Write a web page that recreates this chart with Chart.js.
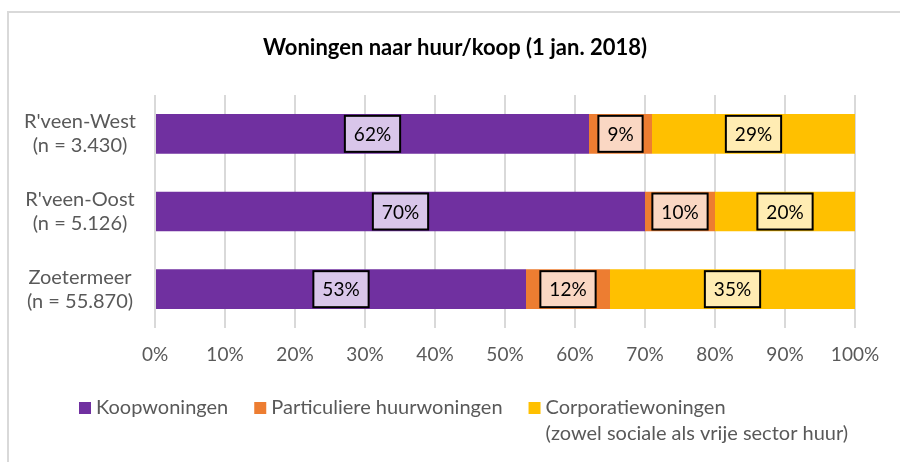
<!DOCTYPE html>
<html>
<head>
<meta charset="utf-8">
<script src="https://cdn.jsdelivr.net/npm/chart.js@4.4.1/dist/chart.umd.min.js"></script>
<style>
    html, body { margin: 0; padding: 0; background: #fff; }
    #wrap { position: relative; width: 900px; height: 462px; overflow: hidden; }
    #frame { position: absolute; left: 7px; top: 11px; width: 900px; height: 460px;
             border-top: 2px solid #d9d9d9; border-left: 2px solid #d9d9d9; }
    canvas { position: absolute; left: 0; top: 0; }
</style>
</head>
<body>
<div id="wrap">
    <div id="frame"></div>
    <canvas id="housing-chart" width="900" height="462"></canvas>
</div>
<script>
const categories = [
    ["R'veen-West", "(n = 3.430)"],
    ["R'veen-Oost", "(n = 5.126)"],
    ["Zoetermeer", "(n = 55.870)"],
];
const koopwoningen = [62, 70, 53];
const particuliereHuur = [9, 10, 12];
const corporatie = [29, 20, 35];
const seriesNames = ["Koopwoningen", "Particuliere huurwoningen", "Corporatiewoningen"];
const legendNote = "(zowel sociale als vrije sector huur)";
const xTickValues = [0, 10, 20, 30, 40, 50, 60, 70, 80, 90, 100];
const chartTitle = "Woningen naar huur/koop (1 jan. 2018)";

const FONT = "Lato";

// title, drawn a bit right of the canvas centre like the original frame
const topTitle = {
    id: "topTitle",
    afterDraw(chart) {
        const ctx = chart.ctx;
        ctx.save();
        ctx.font = "bold 22px " + FONT;
        ctx.fillStyle = "#000";
        ctx.textAlign = "center";
        ctx.textBaseline = "middle";
        ctx.fillText(chartTitle, 455, 48);
        ctx.restore();
    },
};

// boxed percentage labels in the middle of every segment
const boxLabels = {
    id: "boxLabels",
    afterDatasetsDraw(chart) {
        const ctx = chart.ctx;
        ctx.save();
        ctx.font = "19px " + FONT;
        ctx.textAlign = "center";
        ctx.textBaseline = "middle";
        chart.data.datasets.forEach((ds, i) => {
            chart.getDatasetMeta(i).data.forEach((bar, j) => {
                const txt = ds.data[j] + "%";
                const cx = (bar.x + bar.base) / 2;
                const cy = bar.y;
                const w = ctx.measureText(txt).width + 18;
                const h = 36;
                ctx.fillStyle = ds.labelFill;
                ctx.fillRect(cx - w / 2, cy - h / 2, w, h);
                ctx.lineWidth = 2;
                ctx.strokeStyle = "#000";
                ctx.strokeRect(cx - w / 2, cy - h / 2, w, h);
                ctx.fillStyle = "#000";
                ctx.fillText(txt, cx, cy + 1);
            });
        });
        ctx.restore();
    },
};

// legend with a second line under the last item
const bottomLegend = {
    id: "bottomLegend",
    afterDraw(chart) {
        const ctx = chart.ctx;
        ctx.save();
        ctx.font = "20px " + FONT;
        ctx.textBaseline = "middle";
        ctx.textAlign = "left";
        let x = 79;
        const y = 408;
        chart.data.datasets.forEach((ds, i) => {
            ctx.fillStyle = ds.backgroundColor;
            ctx.fillRect(x, y - 6, 12, 12);
            ctx.fillStyle = "#595959";
            ctx.fillText(ds.label, x + 17, y);
            if (i === chart.data.datasets.length - 1) {
                ctx.fillText(legendNote, x + 17, y + 26);
            }
            x += 17 + ctx.measureText(ds.label).width + 26;
        });
        ctx.restore();
    },
};

function renderHousingChart() {
    const ctx = document.getElementById("housing-chart").getContext("2d");
    new Chart(ctx, {
        type: "bar",
        data: {
            labels: categories,
            datasets: [
                { label: seriesNames[0], data: koopwoningen, backgroundColor: "#7030A0", labelFill: "#D9C6EA" },
                { label: seriesNames[1], data: particuliereHuur, backgroundColor: "#ED7D31", labelFill: "#FAD7C3" },
                { label: seriesNames[2], data: corporatie, backgroundColor: "#FFC000", labelFill: "#FFECB3" },
            ],
        },
        options: {
            responsive: false,
            animation: false,
            indexAxis: "y",
            categoryPercentage: 1,
            barPercentage: 0.51,
            layout: { padding: { left: 10, right: 45, top: 95, bottom: 80 } },
            plugins: {
                legend: { display: false },
                tooltip: { enabled: false },
                title: { display: false },
            },
            scales: {
                x: {
                    stacked: true,
                    min: 0,
                    max: 100,
                    afterBuildTicks: (scale) => {
                        scale.ticks = xTickValues.map((v) => ({ value: v }));
                    },
                    ticks: {
                        callback: (v) => v + "%",
                        color: "#595959",
                        font: { family: FONT, size: 19 },
                        padding: 15,
                        maxRotation: 0,
                    },
                    grid: { color: "#d9d9d9", lineWidth: 2, drawTicks: false },
                    border: { display: false },
                    afterFit: (scale) => { scale.height = 54; },
                },
                y: {
                    stacked: true,
                    grid: { display: false, drawTicks: false },
                    border: { display: false },
                    ticks: {
                        crossAlign: "center",
                        color: "#595959",
                        font: { family: FONT, size: 20 },
                        padding: 19,
                    },
                    afterFit: (scale) => { scale.width = 145; },
                },
            },
        },
        plugins: [boxLabels, bottomLegend, topTitle],
    });
}

renderHousingChart();
</script>
</body>
</html>
